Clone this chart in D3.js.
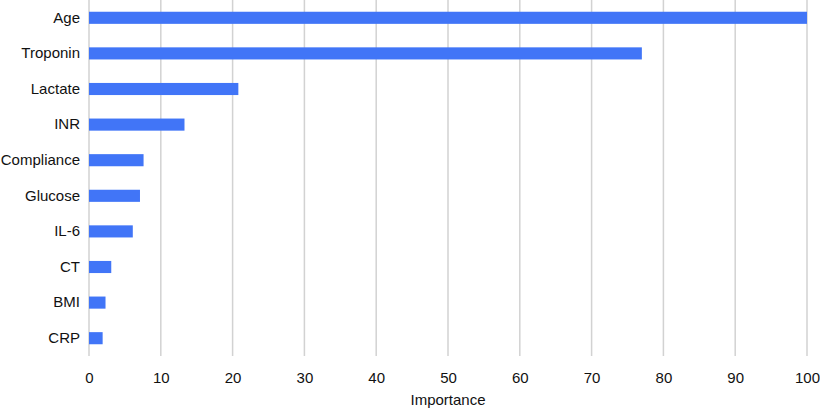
<!DOCTYPE html>
<html>
<head>
<meta charset="utf-8">
<script src="https://cdn.jsdelivr.net/npm/d3@7"></script>
<style>
  body { margin: 0; background: #fff; }
  text { font-family: "Liberation Sans", Arial, sans-serif; fill: #111; }
</style>
</head>
<body>
<svg id="chart" width="820" height="408"></svg>
<script>
// data
var features = ["Age", "Troponin", "Lactate", "INR", "Compliance", "Glucose", "IL-6", "CT", "BMI", "CRP"];
var importance = [100, 77.0, 20.8, 13.3, 7.6, 7.1, 6.1, 3.1, 2.3, 1.9];
var xTicks = [0, 10, 20, 30, 40, 50, 60, 70, 80, 90, 100];

var svg = d3.select("#chart"),
    width = +svg.attr("width"),
    height = +svg.attr("height");

var margin = {top: 0, right: 13, bottom: 52, left: 89};
var plotW = width - margin.left - margin.right,
    plotH = height - margin.top - margin.bottom;

var g = svg.append("g")
  .attr("transform", "translate(" + margin.left + "," + margin.top + ")");

var x = d3.scaleLinear().domain([0, 100]).range([0, plotW]);
var y = d3.scaleBand().domain(features).range([0, plotH])
  .paddingInner(0.66).paddingOuter(0.33);

// vertical grid lines
g.append("g")
  .attr("class", "grid")
  .selectAll("line")
  .data(xTicks)
  .enter().append("line")
  .attr("x1", function(d) { return x(d); })
  .attr("x2", function(d) { return x(d); })
  .attr("y1", 0)
  .attr("y2", plotH)
  .attr("stroke", "#d2d2d2")
  .attr("stroke-width", 1.5);

// bars
g.append("g")
  .selectAll("rect")
  .data(features)
  .enter().append("rect")
  .attr("x", 0)
  .attr("y", function(d) { return y(d); })
  .attr("width", function(d, i) { return x(importance[i]); })
  .attr("height", y.bandwidth())
  .attr("fill", "#4175f7");

// x axis
var xAxis = g.append("g")
  .attr("transform", "translate(0," + plotH + ")")
  .call(d3.axisBottom(x).tickValues(xTicks).tickSize(0).tickPadding(16));
xAxis.select(".domain").remove();
xAxis.selectAll("text").style("font-size", "15px").attr("fill", "#111");

// y axis labels
var yAxis = g.append("g")
  .call(d3.axisLeft(y).tickSize(0).tickPadding(9));
yAxis.select(".domain").remove();
yAxis.selectAll("text").style("font-size", "15px").attr("fill", "#111");

// axis title
svg.append("text")
  .attr("x", margin.left + x(50))
  .attr("y", 405)
  .attr("text-anchor", "middle")
  .style("font-size", "15px")
  .text("Importance");
</script>
</body>
</html>
